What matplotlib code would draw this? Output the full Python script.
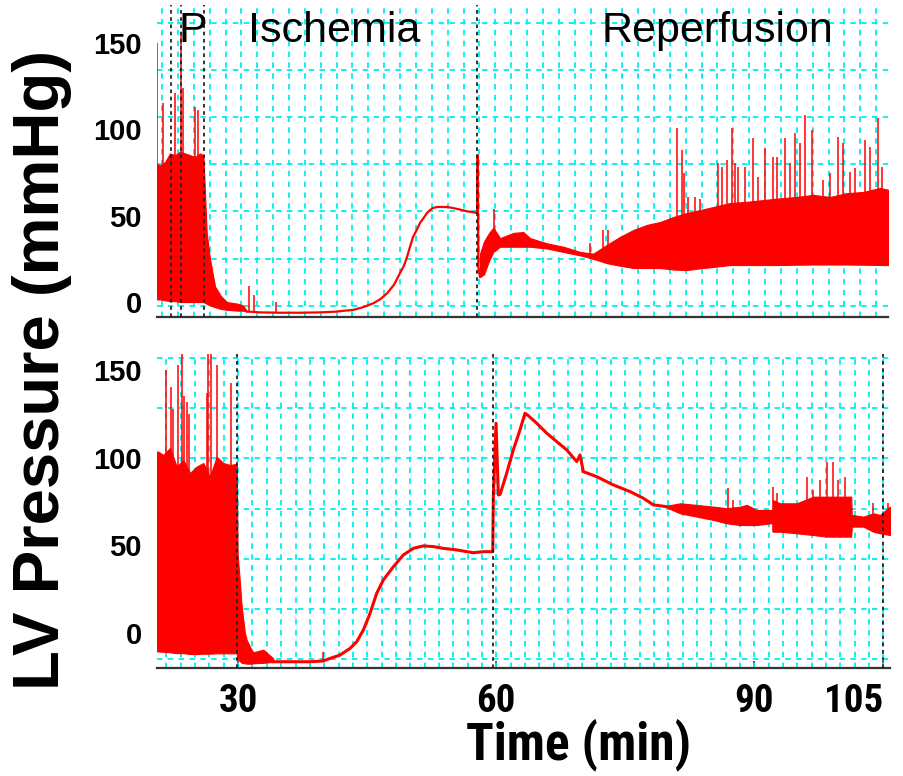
import matplotlib
matplotlib.use('Agg')
import matplotlib.pyplot as plt
import numpy as np
from matplotlib import font_manager
from matplotlib.font_manager import FontProperties

plt.rcParams['font.family'] = ['Liberation Sans', 'DejaVu Sans']


def find_narrow_bold():
    best = None
    for f in font_manager.fontManager.ttflist:
        w = f.weight if isinstance(f.weight, int) else {'bold': 700}.get(f.weight, 400)
        narrowish = ('Narrow' in f.name or 'Condensed' in f.name or f.stretch == 'condensed')
        if not narrowish or w < 600 or f.style != 'normal':
            continue
        if 'Liberation' in f.name or 'Arial' in f.name:
            rank = 0
        elif 'Roboto' in f.name:
            rank = 1
        else:
            rank = 2
        if best is None or rank < best[0]:
            best = (rank, f.fname)
    return best


_nb = find_narrow_bold()
if _nb is None:
    NB = FontProperties(family='Liberation Sans', weight='bold')
    TICK_FS, XLAB_FS = 24, 31
else:
    NB = FontProperties(fname=_nb[1])
    TICK_FS, XLAB_FS = [(28, 37), (28, 37), (24, 32)][_nb[0]]

# ---------------- data (time in min, pressure in mmHg) ----------------
# Top panel: preconditioned heart
top_pre_t = [20.58, 20.93, 21.51, 22.09, 22.67, 23.26, 23.84, 24.42, 25.0, 25.58, 25.97, 26.36, 26.74,
             27.33, 28.0, 28.7, 30.0, 30.6, 31.05]
top_pre_hi = [80, 79, 81, 86, 85, 87, 86, 85, 84, 86, 85, 40, 25, 9, 3.5, 0, -1, -2, -5.5]
top_pre_lo = [1.5, 1.5, 1, 0.5, 0.5, 0, 0, 0, 0, 0, 0, -1, -2, -3, -4, -4.5, -5, -5, -5.5]

top_line_t = [31.05, 32.56, 34.88, 37.21, 39.53, 41.28, 42.44, 43.37, 44.53, 45.70, 46.51, 47.33, 48.14,
              48.84, 49.30, 49.65, 50.0, 50.35, 50.81, 51.16, 51.63, 51.98, 52.33, 52.67, 53.14, 53.49,
              54.30, 55.0, 55.81, 56.63, 57.33, 57.79, 57.87, 57.95, 58.14]
top_line_v = [-5.5, -6, -6.2, -6.2, -6, -5.6, -5, -4.6, -3, -0.8, 1.5, 5, 10, 16.8, 21, 26, 32, 37.6,
              42, 45.7, 49, 51.5, 53.2, 54.4, 55, 55, 55, 54.4, 53.5, 52.5, 52, 51.5, 85, 20, 14.5]

top_rep_t = [58.14, 58.6, 59.2, 59.69, 60.47, 62.01, 63.17, 63.95, 65.9, 67.83, 69.77, 71.31, 72.87,
             74.42, 75.97, 77.52, 79.07, 80.62, 82.17, 83.72, 85.27, 87.21, 89.15, 91.08, 93.02, 94.97,
             96.9, 98.84, 100.78, 102.71, 104.65, 105.58]
top_rep_hi = [28, 35, 40, 43, 37, 40, 40.5, 37, 34, 32, 29, 28, 33, 37.7, 41.7, 44.6, 46.3, 49.2, 51.5,
              53.2, 55, 57.3, 58, 59, 60, 60.8, 62, 60.8, 63, 63.7, 66, 65]
top_rep_lo = [14.5, 16, 24, 29, 32, 32, 32, 32, 31, 29, 27, 25, 22.5, 21, 19.7, 19.7, 19.7, 18.8, 18.5,
              19.5, 20.3, 21.4, 21.4, 21.4, 21.4, 21.6, 21.7, 21.7, 21.7, 21.6, 21.4, 21.4]

top_spk_t = [20.62, 21.31, 22.67, 23.41, 23.57, 25.0, 25.38, 31.22, 31.86, 34.42, 59.77, 70.93, 72.48,
             73.06, 81.01, 81.59, 81.86, 82.36, 83.14, 83.72, 85.85, 86.24, 86.82, 87.41, 87.79, 88.17,
             88.95, 89.92, 90.5, 91.28, 92.24, 92.64, 93.6, 94.19, 94.77, 95.35, 95.93, 96.71, 98.06,
             98.84, 99.8, 100.38, 101.16, 101.74, 102.91, 103.49, 104.45, 104.85]
top_spk_v = [150, 115, 121, 156, 124, 113, 111, 9, 4, 0, 54, 34, 41.7, 41.7, 101, 88, 74.6, 60.8, 60.8,
             59.5, 80.4, 78.3, 82, 101, 80.4, 78.3, 78.3, 94.7, 72.5, 89, 84, 84, 94.7, 80.4, 97.6, 92,
             108, 99.5, 70.6, 74.4, 95.5, 91.8, 75.4, 77.3, 93.7, 89.9, 106.5, 78.3]

top_events = [22.17, 23.34, 26.08, 57.76]

# Bottom panel: control heart
bot_pre_t = [20.58, 20.73, 21.31, 22.09, 22.87, 23.64, 24.42, 25.2, 25.97, 26.74, 27.52, 28.29, 29.07,
             29.85, 29.95, 30.2, 30.43, 30.8, 31.01, 31.5, 31.78, 32.94, 34.1]
bot_pre_hi = [103.5, 103.5, 101.6, 105.6, 95, 98.7, 91.3, 95, 97, 89.2, 100.6, 97, 95.9, 96.5, 45, 30,
              15, 0, -4, -9, -11, -9.5, -14.5]
bot_pre_lo = [-10.5, -10.5, -10.7, -11, -11.5, -11.5, -12, -12, -11.8, -11.8, -11.6, -11.6, -11.6,
              -11.6, -15, -16, -17, -17.3, -17.5, -17.5, -17.3, -17, -16.5]

bot_line_t = [34.1, 36.05, 38.37, 39.88, 40.7, 41.86, 43.02, 43.8, 44.57, 45.35, 46.13, 46.9, 48.06,
              49.22, 50.38, 51.55, 52.71, 53.87, 55.43, 57.36, 58.52, 59.62, 59.69, 60.0, 60.27, 60.47,
              61.24, 62.01, 62.79, 63.37, 63.76, 64.73, 65.9, 67.06, 68.22, 69.38, 69.77, 70.15, 71.71,
              73.64, 75.58, 77.13, 78.29, 79.85]
bot_line_v = [-16.4, -16.4, -16.4, -16, -14.5, -12.6, -8.8, -5, 1.7, 11.2, 22.7, 30.3, 37.8, 44.5, 48.3,
              49.7, 49.3, 48.3, 47.4, 45.8, 46.4, 46.4, 77.8, 119.7, 78.8, 79, 91.2, 104.5, 115.9, 125.4,
              124, 119.7, 114, 109.2, 104.5, 97.8, 101.6, 92.1, 89.2, 84.5, 80.7, 76.9, 73.1, 72.1]

bot_rep_t = [79.85, 81.4, 83.33, 85.27, 86.82, 88.37, 89.15, 90.31, 91.86, 92.17, 92.2, 93.02, 94.97,
             96.9, 98.45, 100.78, 101.3, 101.36, 102.71, 103.87, 104.65, 105.81]
bot_rep_hi = [72.6, 74.0, 73.1, 72.1, 71.2, 72.1, 73.1, 70.2, 70.2, 70.2, 75.9, 74.0, 74.0, 77.8, 77.8,
              77.8, 77.8, 67.4, 66.4, 68.3, 67.4, 72.1]
bot_rep_lo = [71.6, 68.3, 66.4, 64.5, 62.6, 61.6, 61.6, 61.6, 62.6, 62.6, 57.8, 57.8, 56.9, 55.9, 55.0,
              55.0, 55.0, 60.7, 60.7, 57.8, 56.9, 55.9]

bot_spk_t = [21.63, 22.17, 22.48, 22.99, 23.45, 23.72, 24.03, 24.34, 26.36, 26.55, 26.83, 27.59, 29.15,
             39.92, 87.01, 87.6, 92.24, 92.64, 96.13, 96.9, 97.67, 98.45, 99.22, 99.8, 100.58, 101.16,
             103.87, 105.62]
bot_spk_v = [150, 140.6, 128, 153, 160, 135, 132, 125, 137, 160, 160, 153, 142.5, -10.7, 82.6, 75.9,
             83.5, 79.7, 89.2, 81.6, 87.3, 97.8, 97.8, 87.3, 89.2, 77.8, 74.0, 74.0]

bot_events = [29.85, 59.62, 105.03]

ytick_vals = [0, 50, 100, 150]
ytick_labels = ['0', '50', '100', '150']
xtick_vals = [30, 60, 90, 105]
xtick_labels = ['30', '60', '90', '105']
phase_labels = ['P', 'Ischemia', 'Reperfusion']
phase_pos = [24.77, 41.16, 85.7]

# ---------------- styling ----------------
RED = '#ff0000'
CYAN = '#00eeee'
DOT = '#222222'

fig = plt.figure(figsize=(9.04, 7.76), dpi=100)
ax1 = fig.add_axes([0.17367, 0.59188, 0.80863, 0.40168])
ax2 = fig.add_axes([0.17367, 0.13956, 0.81084, 0.40425])

ax1.set_xlim(20.58, 105.58)
ax1.set_ylim(-8.5, 171.9)
ax2.set_xlim(20.58, 105.81)
ax2.set_ylim(-19.8, 159.2)

top_vgrid = [78.37 + 1.8453 * k for k in range(-31, 15)]
top_hgrid = [-2.1 + 27.28 * k for k in range(7)]
bot_vgrid = [78.37 + 1.6674 * k for k in range(-34, 17)]
bot_hgrid = [-14.8 + 28.6 * k for k in range(7)]


def style(ax, vg, hg):
    ax.set_axisbelow(True)
    for s in ['top', 'right', 'left']:
        ax.spines[s].set_visible(False)
    ax.spines['bottom'].set_color('#333333')
    ax.spines['bottom'].set_linewidth(1.6)
    ax.set_xticks(vg, minor=True)
    ax.set_yticks(hg, minor=True)
    ax.grid(which='minor', color=CYAN, linestyle=(0, (3.0, 3.0)), linewidth=1.3)
    ax.grid(which='major', visible=False)
    ax.tick_params(which='minor', length=0)
    ax.set_yticks(ytick_vals)
    ax.set_yticklabels(ytick_labels, fontsize=21, fontweight='bold')
    ax.tick_params(axis='y', which='major', length=0, pad=11)


style(ax1, top_vgrid, top_hgrid)
style(ax2, bot_vgrid, bot_hgrid)

# top traces
ax1.fill_between(top_pre_t, top_pre_lo, top_pre_hi, color=RED, lw=0.8, edgecolor=RED, zorder=3)
ax1.plot(top_line_t, top_line_v, color=RED, lw=1.6, zorder=3)
ax1.fill_between(top_rep_t, top_rep_lo, top_rep_hi, color=RED, lw=0.8, edgecolor=RED, zorder=3)
top_env_t = top_pre_t + top_line_t[1:] + top_rep_t
top_env_lo = top_pre_lo + top_line_v[1:] + top_rep_lo
top_base = np.interp(top_spk_t, top_env_t, top_env_lo)
ax1.vlines(top_spk_t, top_base, top_spk_v, color=RED, lw=1.1, zorder=3)

# bottom traces
ax2.fill_between(bot_pre_t, bot_pre_lo, bot_pre_hi, color=RED, lw=0.8, edgecolor=RED, zorder=3)
ax2.plot(bot_line_t, bot_line_v, color=RED, lw=2.2, zorder=3)
ax2.fill_between(bot_rep_t, bot_rep_lo, bot_rep_hi, color=RED, lw=0.8, edgecolor=RED, zorder=3)
bot_env_t = bot_pre_t + bot_line_t[1:] + bot_rep_t[1:]
bot_env_lo = bot_pre_lo + bot_line_v[1:] + bot_rep_lo[1:]
bot_base = np.interp(bot_spk_t, bot_env_t, bot_env_lo)
ax2.vlines(bot_spk_t, bot_base, bot_spk_v, color=RED, lw=1.1, zorder=3)

# event markers
for t in top_events:
    ax1.axvline(t, color=DOT, linestyle=(0, (2.0, 2.0)), lw=1.3, zorder=4)
for t in bot_events:
    ax2.axvline(t, color=DOT, linestyle=(0, (2.0, 2.0)), lw=1.3, zorder=4)

# x ticks
ax1.set_xticks([])
ax1.tick_params(axis='x', which='major', length=0, labelbottom=False)
ax2.set_xticks(xtick_vals)
ax2.set_xticklabels(xtick_labels)
for lab in ax2.get_xticklabels():
    lab.set_fontproperties(NB)
    lab.set_fontsize(TICK_FS)
    lab.set_fontweight('bold')
ax2.tick_params(axis='x', which='major', direction='in', length=5, width=1.2, color='#333333', pad=11)
ax2.get_xticklabels()[-1].set_horizontalalignment('right')

# phase labels
for lab, pos in zip(phase_labels, phase_pos):
    ax1.text(pos, 157, lab, fontsize=31, ha='center', va='center', zorder=5)

fig.text(42 / 904, 0.523, 'LV Pressure (mmHg)', rotation=90, ha='center', va='center',
         fontsize=47, fontweight='bold')
xl = fig.text(579 / 904, 1 - 745 / 776, 'Time (min)', ha='center', va='center', fontproperties=NB)
xl.set_fontsize(XLAB_FS)
xl.set_fontweight('bold')

fig.savefig('out.png', dpi=100)
